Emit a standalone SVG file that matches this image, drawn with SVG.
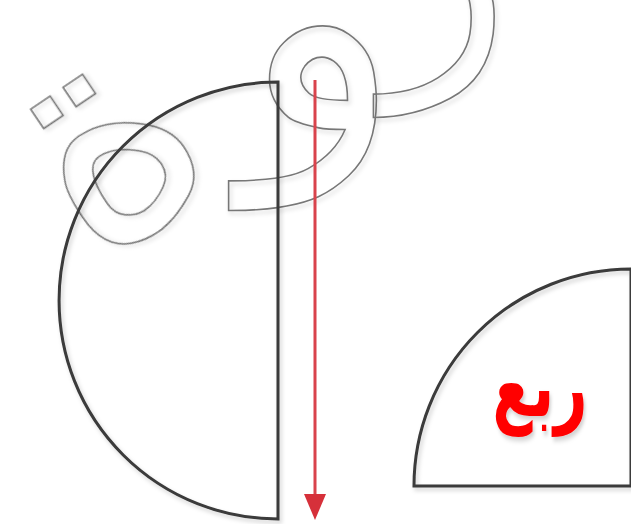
<svg xmlns="http://www.w3.org/2000/svg" width="631" height="524" viewBox="0 0 631 524">
<defs>
<filter id="sh" x="-10%" y="-10%" width="130%" height="130%">
<feDropShadow dx="2" dy="3" stdDeviation="2" flood-color="#000" flood-opacity="0.18"/>
</filter>
</defs>
<style>
.ol{font-family:"DejaVu Sans",sans-serif;fill:none;stroke:#777;stroke-width:1.6;filter:url(#sh)}
.sh{fill:none;stroke:#3a3a3a;stroke-width:3;filter:url(#sh)}
.lbl{font-family:"DejaVu Sans","Noto Sans",sans-serif;font-weight:bold;fill:#ff0000;font-size:66px;filter:url(#sh)}
</style>
<rect width="631" height="524" fill="#fff"/>
<g id="outline-letters">
<text class="ol" x="90" y="267" font-size="320" transform="rotate(-34 90 267)">ة</text>
<text class="ol" x="322" y="130" font-size="330" text-anchor="middle">و</text>
<text class="ol" x="447" y="54" font-size="260" text-anchor="middle">ر</text>
</g>
<g id="half-circle">
<path class="sh" d="M278,82 L278,519 A219,218.5 0 0 1 278,82 Z"/>
</g>
<g id="quarter-circle">
<path class="sh" d="M414,486 A217,217 0 0 1 631,269 L631,486 Z"/>
<text class="lbl" text-anchor="middle" transform="translate(540,415.5) scale(0.88,1.3)">ربع</text>
</g>
<g id="connectors">
<line x1="315" y1="80" x2="315" y2="497" stroke="#d9434c" stroke-width="3"/>
<path d="M304,494 L326,494 L315,520 Z" fill="#d6303a"/>
</g>
</svg>
